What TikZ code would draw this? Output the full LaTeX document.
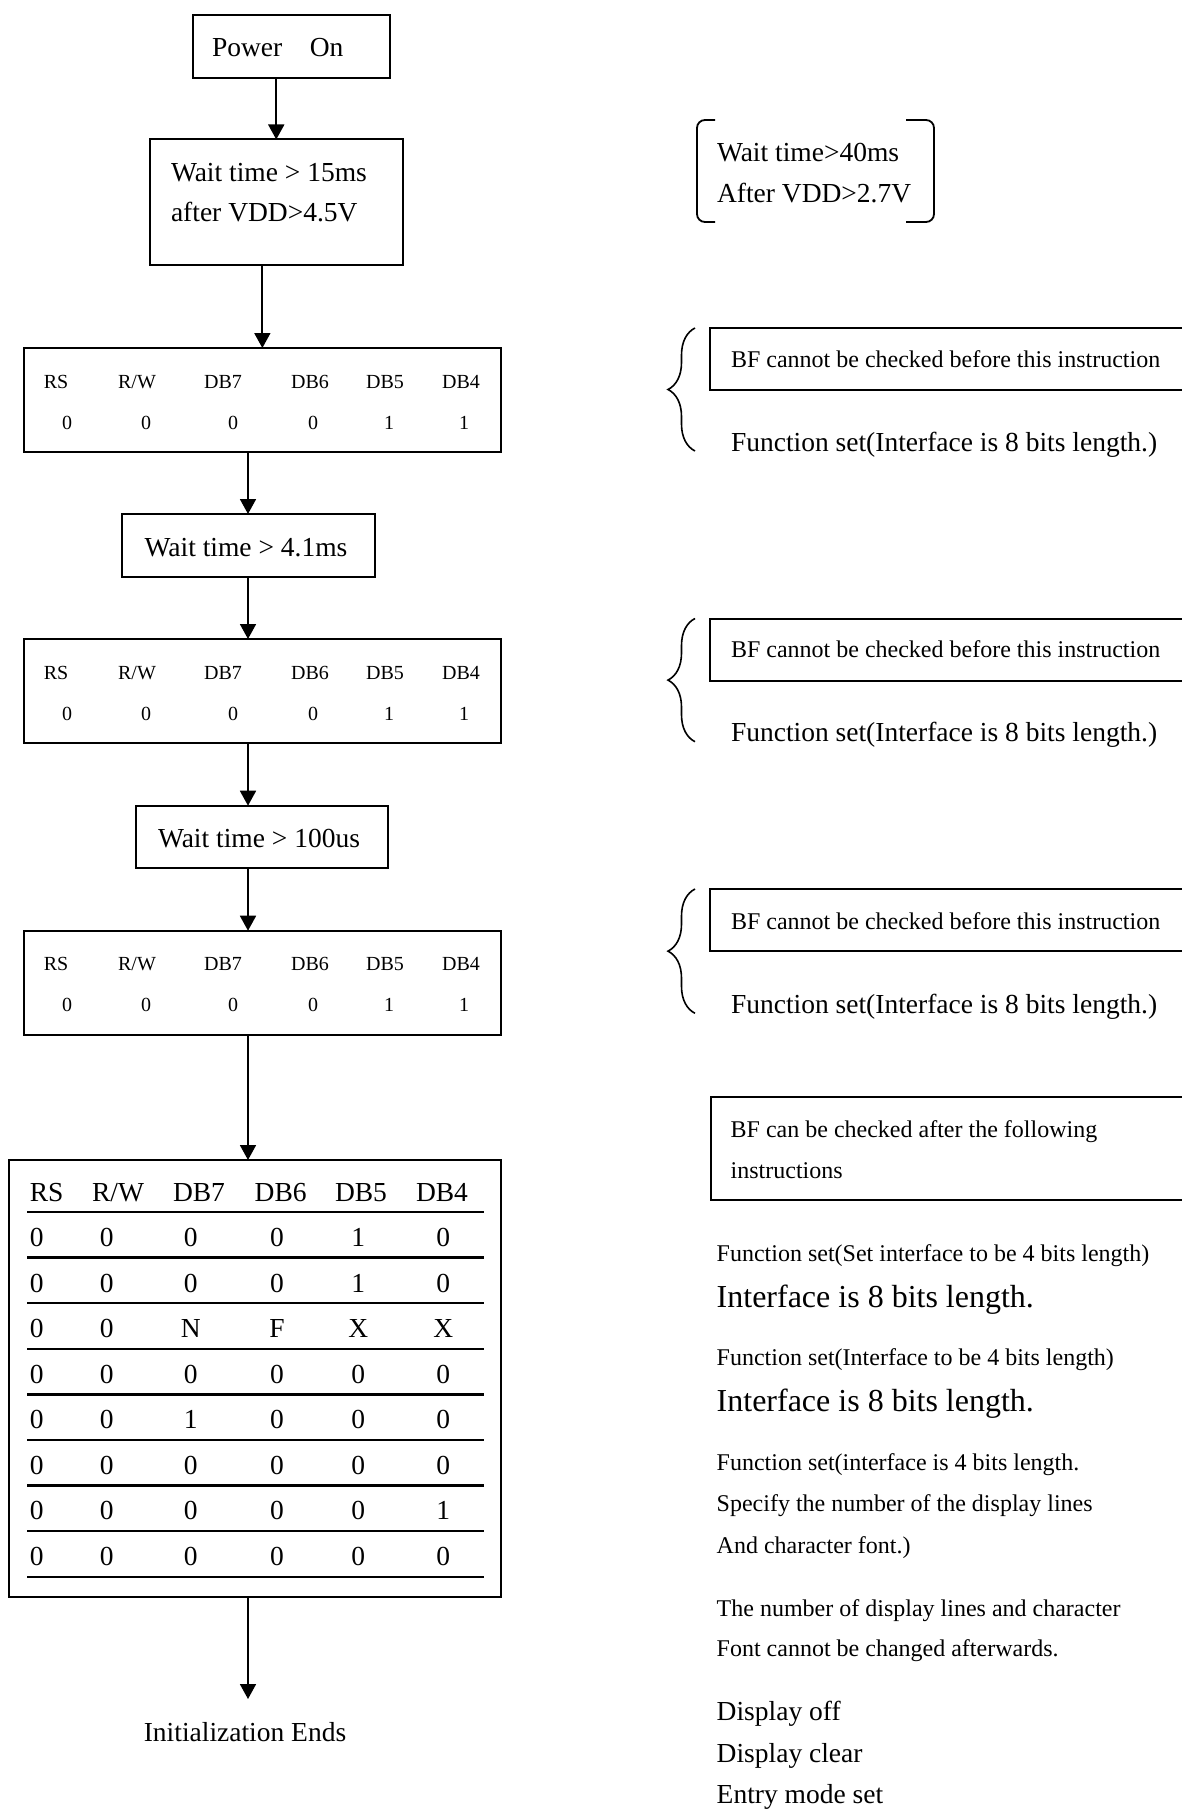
\documentclass[tikz,border=0pt]{standalone}
\usepackage{fontspec}
\setmainfont{Liberation Serif}
\usetikzlibrary{arrows.meta,positioning,decorations.pathreplacing}
\newcommand{\txtsmall}{\fontsize{20}{24}\selectfont}
\newcommand{\txtmid}{\fontsize{24}{29}\selectfont}
\newcommand{\txtbig}{\fontsize{27.5}{33}\selectfont}
\newcommand{\txtlarge}{\fontsize{32}{38}\selectfont}

\begin{document}
\begin{tikzpicture}[x=1pt, y=-1pt, line width=1.8pt,
    every node/.style={inner sep=0pt, outer sep=0pt},
    flowbox/.style={draw, line width=2pt, anchor=north west},
    lbl/.style={anchor=base west},
    cell/.style={anchor=base},
    arr/.style={-{Triangle[length=15pt, width=16pt]}, line width=1.8pt}]
  \useasboundingbox (0,0) rectangle (1182,1809);
  \coordinate (spine) at (248,0);

  % left column
  \node (pwr) [flowbox, minimum width=197pt, minimum height=63pt] at (193,15) {};
  \node (pwrtxt) [lbl] at (212,56.7) {\txtbig Power\hspace{1em}On};
  \node (wait1) [flowbox, minimum width=252.5pt, minimum height=125.7pt] at (150,139.5) {};
  \node (wait1a) [lbl] at (171,181.7) {\txtbig Wait time > 15ms};
  \node (wait1b) [lbl] at (171,221.7) {\txtbig after VDD>4.5V};
  \node (wait2) [flowbox, minimum width=252.7pt, minimum height=62.7pt] at (122,514) {};
  \node (wait2txt) [cell] at (246,556) {\txtbig Wait time > 4.1ms};
  \node (wait3) [flowbox, minimum width=252pt, minimum height=62pt] at (136,805.7) {};
  \node (wait3txt) [cell] at (259,847.3) {\txtbig Wait time > 100us};

  \foreach \ty [count=\rg] in {348,639,930.7} {
    \node (reg\rg) [flowbox, minimum width=476.7pt, minimum height=104pt] at (24,\ty) {};
    \foreach \hd/\hx/\vx/\val [count=\col] in {RS/56/67/0, {R/W}/137/146/0, DB7/223/233/0, DB6/310/313/0, DB5/385/389/1, DB4/461/464/1} {
      \node (reg\rg h\col) [cell] at (\hx,\ty+40) {\txtsmall \hd};
      \node (reg\rg v\col) [cell] at (\vx,\ty+81) {\txtsmall \val};
    }
  }

  \node (tbl) [flowbox, minimum width=491.4pt, minimum height=436.7pt] at (9.3,1160) {};
  \foreach \hd/\hx [count=\col] in {RS/46.7, {R/W}/118, DB7/199, DB6/280.7, DB5/361, DB4/442}
    \node (tblh\col) [cell] at (\hx,1201.7) {\txtbig \hd};
  \foreach \x/\vals [count=\col] in {36.7/{0,0,0,0,0,0,0,0}, 106.7/{0,0,0,0,0,0,0,0}, 190.7/{0,0,N,0,1,0,0,0}, 277/{0,0,F,0,0,0,0,0}, 358.3/{1,1,X,0,0,0,0,0}, 443.3/{0,0,X,0,0,0,1,0}}
    \foreach \val [count=\row] in \vals
      \node (tbl\row-\col) [cell] at (\x,1201+45.5*\row) {\txtbig \val};
  \foreach \lidx in {0,...,8}
    \draw[line width=2.4pt] (27,1212+45.6*\lidx) -- (484,1212+45.6*\lidx);

  \node (fin) [cell] at (245,1741.7) {\txtbig Initialization Ends};
  \coordinate (finarrow) at (248,1699);

  \draw[arr] (pwr.south -| wait1.north) -- (wait1.north);
  \draw[arr] (wait1.south -| reg1.north) -- (reg1.north);
  \draw[arr] (spine |- reg1.south) -- (spine |- wait2.north);
  \draw[arr] (spine |- wait2.south) -- (spine |- reg2.north);
  \draw[arr] (spine |- reg2.south) -- (spine |- wait3.north);
  \draw[arr] (spine |- wait3.south) -- (spine |- reg3.north);
  \draw[arr] (spine |- reg3.south) -- (spine |- tbl.north);
  \draw[arr] (spine |- tbl.south) -- (finarrow);

  % right column
  \draw[rounded corners=8pt] (715,120) -- (697,120) -- (697,222) -- (715,222);
  \draw[rounded corners=8pt] (906,120) -- (934,120) -- (934,222) -- (906,222);
  \node (w40a) [lbl] at (717,161) {\txtbig Wait time>40ms};
  \node (w40b) [lbl] at (717,202.7) {\txtbig After VDD>2.7V};

  \foreach \ty/\by/\tb/\fb [count=\gp] in {328/390/367/451, 618.5/681/657.3/741.7, 889/950.7/929/1013.3} {
    \draw[line width=2pt] (1182,\ty) -| (710,\by) -- (1182,\by);
    \node (bfno\gp) [lbl] at (731,\tb) {\txtmid BF cannot be checked before this instruction};
    \node (fset\gp) [lbl] at (731,\fb) {\txtbig Function set(Interface is 8 bits length.)};
    \draw[line width=1.6pt, decorate, decoration={brace, amplitude=27pt}] (695,\fb) -- (695,\ty);
  }

  \draw[line width=2pt] (1182,1096.7) -| (710.7,1200) -- (1182,1200);
  \node (bfok1) [lbl] at (730.7,1137.3) {\txtmid BF can be checked after the following};
  \node (bfok2) [lbl] at (730.7,1178.3) {\txtmid instructions};

  \node (ins1) [lbl] at (716.7,1261.7) {\txtmid Function set(Set interface to be 4 bits length)};
  \node (ins2) [lbl] at (716.7,1307.7) {\txtlarge Interface is 8 bits length.};
  \node (ins3) [lbl] at (716.7,1365.7) {\txtmid Function set(Interface to be 4 bits length)};
  \node (ins4) [lbl] at (716.7,1411) {\txtlarge Interface is 8 bits length.};
  \node (ins5) [lbl] at (716.7,1470) {\txtmid Function set(interface is 4 bits length.};
  \node (ins6) [lbl] at (716.7,1511) {\txtmid Specify the number of the display lines};
  \node (ins7) [lbl] at (716.7,1553.3) {\txtmid And character font.)};
  \node (ins8) [lbl] at (716.7,1616) {\txtmid The number of display lines and character};
  \node (ins9) [lbl] at (716.7,1656.7) {\txtmid Font cannot be changed afterwards.};
  \node (ins10) [lbl] at (716.7,1720) {\txtbig Display off};
  \node (ins11) [lbl] at (716.7,1762.7) {\txtbig Display clear};
  \node (ins12) [lbl] at (716.7,1803.3) {\txtbig Entry mode set};
\end{tikzpicture}
\end{document}
